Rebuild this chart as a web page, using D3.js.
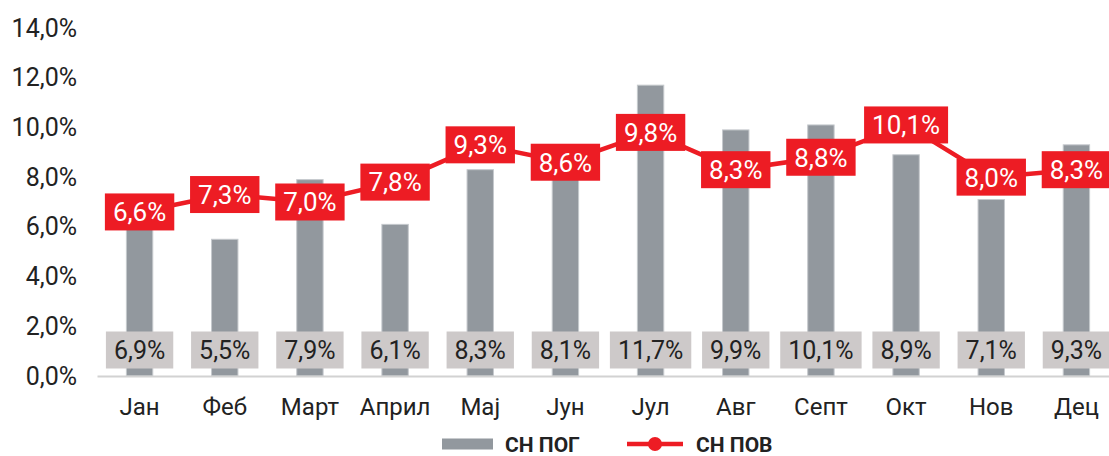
<!DOCTYPE html>
<html lang="mk">
  <head>
    <meta charset="utf-8">
    <title>СН ПОГ / СН ПОВ</title>
    <script src="https://cdn.jsdelivr.net/npm/d3@7"></script>
    <style>
      body { margin: 0; background: #fff; }
      svg { display: block; font-family: Roboto, "Noto Sans", sans-serif; }
    </style>
  </head>
  <body>
    <svg width="1109" height="456"></svg>
    <script>
      // data
      var months = ["Јан", "Феб", "Март", "Април", "Мај", "Јун", "Јул", "Авг", "Септ", "Окт", "Нов", "Дец"];
      var snPog = [6.9, 5.5, 7.9, 6.1, 8.3, 8.1, 11.7, 9.9, 10.1, 8.9, 7.1, 9.3];
      var snPov = [6.6, 7.3, 7.0, 7.8, 9.3, 8.6, 9.8, 8.3, 8.8, 10.1, 8.0, 8.3];
      var yTicks = [0, 2, 4, 6, 8, 10, 12, 14];
      var legendNames = ["СН ПОГ", "СН ПОВ"];

      var svg = d3.select("svg");
      var fmt = function(v) { return v.toFixed(1).replace(".", ",") + "%"; };

      var x = d3.scaleBand().domain(months).range([97, 1119]).paddingInner(0.69).paddingOuter(0.345);
      var y = d3.scaleLinear().domain([0, 14]).range([376, 28]);

      // y axis labels only
      var yAxis = svg.append("g").attr("transform", "translate(77,0)")
        .call(d3.axisLeft(y).tickValues(yTicks).tickSize(0).tickPadding(0).tickFormat(fmt));
      yAxis.select(".domain").remove();
      yAxis.selectAll("text").attr("font-size", 25).attr("fill", "#222").attr("font-family", "Roboto");

      // bars
      svg.append("g").selectAll("rect").data(snPog).enter().append("rect")
        .attr("x", function(d, i) { return x(months[i]); })
        .attr("y", function(d) { return y(d); })
        .attr("width", x.bandwidth())
        .attr("height", function(d) { return y(0) - y(d); })
        .attr("fill", "#92989e")
        .attr("stroke", "#c5c9cd").attr("stroke-width", 1);

      // x axis
      var xAxis = svg.append("g").attr("transform", "translate(0,376)")
        .call(d3.axisBottom(x).tickSize(0).tickPadding(22));
      xAxis.select(".domain").attr("stroke", "#d2d2d2").attr("stroke-width", 2);
      xAxis.selectAll("text").attr("font-size", 24).attr("fill", "#222").attr("font-family", "Roboto");

      function labels(vals, ypos, fill, textFill, size) {
        var g = svg.append("g").selectAll("g").data(vals).enter().append("g")
          .attr("transform", function(d, i) { return "translate(" + (x(months[i]) + x.bandwidth() / 2) + "," + ypos(d) + ")"; });
        g.append("rect").attr("fill", fill);
        var t = g.append("text").text(fmt)
          .attr("text-anchor", "middle").attr("dy", "0.36em")
          .attr("font-size", size).attr("fill", textFill);
        t.each(function() {
          var w = this.getComputedTextLength() + 16;
          d3.select(this.parentNode).select("rect")
            .attr("x", -w / 2).attr("y", -18.5).attr("width", w).attr("height", 37);
        });
      }

      labels(snPog, function() { return 350; }, "#cdc9c9", "#222", 25);

      // line
      var line = d3.line()
        .x(function(d, i) { return x(months[i]) + x.bandwidth() / 2; })
        .y(function(d) { return y(d); });
      svg.append("path").datum(snPov).attr("d", line)
        .attr("fill", "none").attr("stroke", "#ed1c24").attr("stroke-width", 4.5);

      labels(snPov, y, "#ed1c24", "#fff", 26);

      // legend (nudged up a little so the text fits in the frame)
      var ly = 444;
      var leg = svg.append("g");
      leg.append("rect").attr("x", 442).attr("y", ly - 5.5).attr("width", 51).attr("height", 11).attr("fill", "#92989e");
      leg.append("text").attr("x", 505).attr("y", ly).attr("dy", "0.36em").attr("font-size", 21).attr("font-weight", "bold").attr("fill", "#222").text(legendNames[0]);
      leg.append("line").attr("x1", 627).attr("x2", 683).attr("y1", ly).attr("y2", ly).attr("stroke", "#ed1c24").attr("stroke-width", 4.5);
      leg.append("circle").attr("cx", 655).attr("cy", ly).attr("r", 7).attr("fill", "#ed1c24");
      leg.append("text").attr("x", 696).attr("y", ly).attr("dy", "0.36em").attr("font-size", 21).attr("font-weight", "bold").attr("fill", "#222").text(legendNames[1]);
    </script>
  </body>
</html>
